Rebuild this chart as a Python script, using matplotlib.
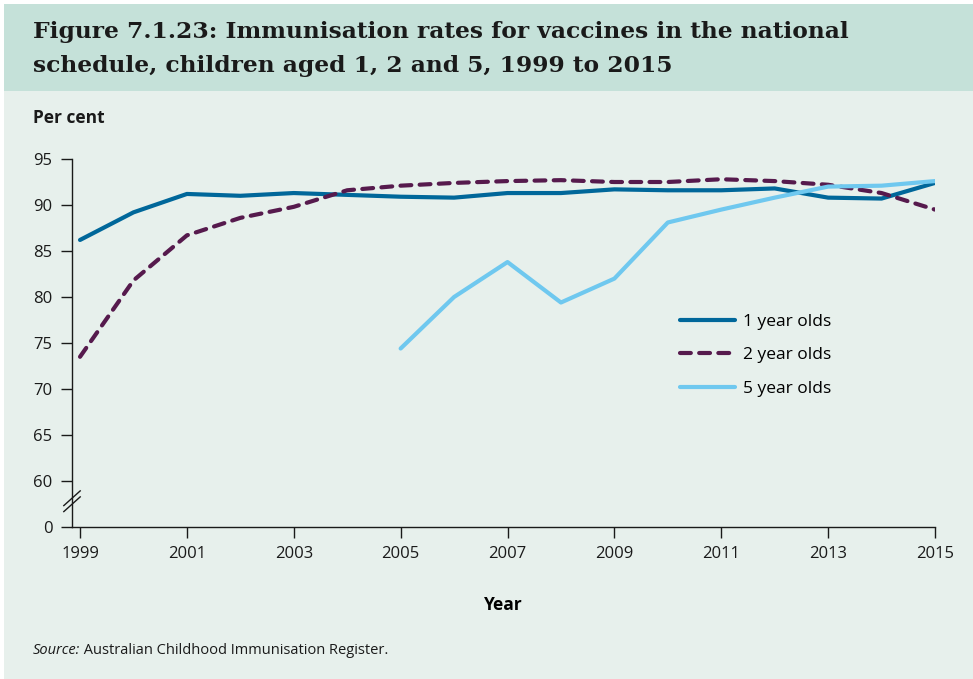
import matplotlib.pyplot as plt
from matplotlib.patches import Rectangle

# data
years = list(range(1999, 2016))
one_year = [86.2, 89.2, 91.2, 91.0, 91.3, 91.1, 90.9, 90.8, 91.3, 91.3,
            91.7, 91.6, 91.6, 91.8, 90.8, 90.7, 92.4]
two_year = [73.5, 81.8, 86.7, 88.6, 89.8, 91.6, 92.1, 92.4, 92.6, 92.7,
            92.5, 92.5, 92.8, 92.6, 92.2, 91.3, 89.5]
five_years = list(range(2005, 2016))
five_year = [74.4, 80.0, 83.8, 79.4, 82.0, 88.1, 89.5, 90.8, 92.0, 92.1, 92.6]

ytick_vals = [55, 60, 65, 70, 75, 80, 85, 90, 95]
ytick_labels = ['0', '60', '65', '70', '75', '80', '85', '90', '95']
xtick_vals = list(range(1999, 2016, 2))

BG = '#e7f0ec'
BAND = '#c5e1d9'
C1 = '#00679a'
C2 = '#561a4d'
C5 = '#6fc8ef'

plt.rcParams['font.family'] = ['Open Sans', 'DejaVu Sans']

fig = plt.figure(figsize=(9.73, 6.79), dpi=100)
fig.patch.set_facecolor('white')
W, H = 973, 679

# background panel and title band
fig.patches.append(Rectangle((4 / W, 0), 1, 1 - 4 / H, transform=fig.transFigure,
                             facecolor=BG, edgecolor='none', zorder=-2))
fig.patches.append(Rectangle((4 / W, 1 - 91 / H), 1, 87 / H, transform=fig.transFigure,
                             facecolor=BAND, edgecolor='none', zorder=-1))

fig.text(33 / W, 1 - 49 / H, 'Figure 7.1.23: Immunisation rates for vaccines in the national\n'
         'schedule, children aged 1, 2 and 5, 1999 to 2015',
         family='DejaVu Serif', fontweight='bold', fontsize=16.8, color='#1a1a1a',
         va='center', ha='left', linespacing=1.65)

ax = fig.add_axes([72 / W, 1 - 527 / H, (935 - 72) / W, (527 - 159) / H])
ax.set_facecolor(BG)

ax.plot(years, one_year, color=C1, lw=3, solid_capstyle='round', label='1 year olds')
ax.plot(years, two_year, color=C2, lw=3, linestyle=(0, (2.6, 2.0)),
        dash_capstyle='round', label='2 year olds')
ax.plot(five_years, five_year, color=C5, lw=3, solid_capstyle='round', label='5 year olds')

ax.set_xlim(1998.85, 2015)
ax.set_ylim(55, 95)
ax.set_yticks(ytick_vals)
ax.set_yticklabels(ytick_labels)
ax.set_xticks(xtick_vals)
ax.set_xticklabels([str(x) for x in xtick_vals])
ax.tick_params(axis='both', labelsize=12, colors='#1a1a1a', length=8, width=1)
ax.tick_params(axis='y', pad=6)
ax.tick_params(axis='x', pad=6)

for s in ['top', 'right']:
    ax.spines[s].set_visible(False)
for s in ['left', 'bottom']:
    ax.spines[s].set_color('#1a1a1a')
    ax.spines[s].set_linewidth(1)

# axis break marks
for dy in (-3, 3):
    c = 0.07 + dy / 368
    ax.plot([-0.0095, 0.0095], [c - 0.02, c + 0.02],
            transform=ax.transAxes, color='#1a1a1a', lw=1, clip_on=False)

ax.set_xlabel('Year', fontsize=12.5, fontweight='bold', labelpad=24)

fig.text(33 / W, 1 - 118 / H, 'Per cent', fontsize=12.5, fontweight='bold',
         va='center', ha='left', color='#1a1a1a')

src = fig.text(33 / W, 1 - 650 / H, 'Source:', fontsize=10.5, style='italic',
               va='center', ha='left', color='#1a1a1a')
ax.annotate(' Australian Childhood Immunisation Register.', xy=(1, 0.5), xycoords=src,
            fontsize=10.5, va='center', ha='left', color='#1a1a1a',
            annotation_clip=False)

leg = ax.legend(loc='upper left', bbox_to_anchor=((664 - 72) / 863, 1 - (298 - 159) / 368),
                frameon=False, fontsize=12.5, handlelength=3.2, handletextpad=0.45,
                labelspacing=1.0)

fig.savefig('out.png', dpi=100, facecolor=fig.get_facecolor())
